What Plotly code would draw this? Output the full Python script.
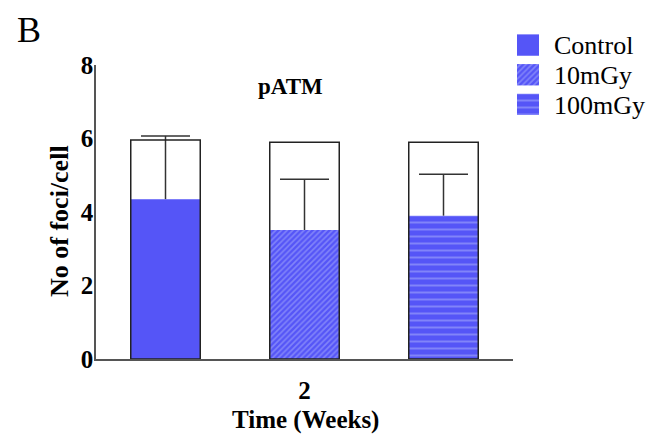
import plotly.graph_objects as go

time_label = ["2"]
groups = ["Control", "10mGy", "100mGy"]
means = [4.35, 3.51, 3.90]
errors = [1.72, 1.38, 1.13]
box_tops = [5.96, 5.90, 5.90]
y_ticks = [0, 2, 4, 6, 8]
legend_len = [1, 1, 1]

BLUE = "#5555f7"
LIGHT = "#aeb4fb"
FONT = "Liberation Serif"
patterns = [
    dict(shape=""),
    dict(shape="/", fgcolor=LIGHT, bgcolor=BLUE, size=4, solidity=0.4),
    dict(shape="-", fgcolor=LIGHT, bgcolor=BLUE, size=7, solidity=0.28),
]

# the page body adds an 8px offset; positions below are in reference-image pixels
OFF = 8
W, H = 662 - OFF, 438 - OFF
L, Rx, Ty, By = 96, 513, 65, 359  # plot area in reference pixels
px = lambda x: (x - OFF) / W
py = lambda y: (H - (y - OFF)) / H

pos = list(range(len(groups)))
fig = go.Figure()
for i, g in enumerate(groups):
    fig.add_trace(go.Bar(
        x=[pos[i]], y=[means[i]], name=g, width=0.5, showlegend=False,
        marker=dict(color=BLUE, line=dict(width=0), pattern=patterns[i]),
        error_y=dict(type="data", symmetric=False, array=[errors[i]], arrayminus=[0],
                     color="#333333", thickness=1.5, width=0),
    ))
for i, g in enumerate(groups):
    fig.add_trace(go.Bar(
        x=[pos[i]], y=[box_tops[i]], name=g + " box", width=0.5, showlegend=False,
        marker=dict(color="rgba(0,0,0,0)", line=dict(color="#222222", width=1.5)),
        hoverinfo="skip",
    ))
# error bar caps (upper only)
fig.add_trace(go.Scatter(
    x=pos, y=[m + e for m, e in zip(means, errors)], mode="markers", showlegend=False,
    marker=dict(symbol="line-ew", size=35, line=dict(color="#333333", width=1.5)),
    hoverinfo="skip",
))
# legend swatches in a small inset axis
for i, g in enumerate(groups):
    fig.add_trace(go.Bar(
        x=[legend_len[i]], y=[i], orientation="h", width=0.72, showlegend=False,
        xaxis="x2", yaxis="y2", hoverinfo="skip",
        marker=dict(color=BLUE, line=dict(width=0), pattern=patterns[i]),
    ))

row_c = [45, 74.5, 104.5]
ann = [
    dict(text="B", x=px(29), y=1.0, yanchor="top", font=dict(size=36, family=FONT)),
    dict(text="<b>pATM</b>", x=px(290), y=py(87), font=dict(size=23, family=FONT)),
    dict(text="<b>No of foci/cell</b>", x=px(59), y=py(221), textangle=-90,
         font=dict(size=26, family=FONT)),
    dict(text="<b>Time (Weeks)</b>", x=px(305), y=py(420), font=dict(size=25, family=FONT)),
]
for i, g in enumerate(groups):
    ann.append(dict(text=g, x=px(552), y=py(row_c[i] + 1), xanchor="left",
                    font=dict(size=26, family=FONT)))
for a in ann:
    a.update(xref="paper", yref="paper", showarrow=False)
    a.setdefault("yanchor", "middle")
    a.setdefault("xanchor", "center")

row_sp = row_c[1] - row_c[0]
fig.update_layout(
    width=W, height=H, barmode="overlay",
    plot_bgcolor="white", paper_bgcolor="white",
    margin=dict(l=0, r=0, t=0, b=0, pad=0, autoexpand=False),
    font=dict(family=FONT, color="black"),
    showlegend=False,
    xaxis=dict(domain=[px(L), px(Rx)], range=[-0.5, 2.5], tickvals=[1], ticktext=time_label,
               showline=True, linecolor="#555555", linewidth=1.5, ticks="",
               showgrid=False, zeroline=False, automargin=False, ticklabelstandoff=8,
               tickfont=dict(size=25, family=FONT, weight="bold")),
    yaxis=dict(domain=[py(By), py(Ty)], range=[0, 8], tickvals=y_ticks,
               showline=True, linecolor="#555555", linewidth=1.5,
               showgrid=False, zeroline=False, ticks="", automargin=False,
               ticklabelstandoff=-4,
               tickfont=dict(size=25, family=FONT, weight="bold")),
    xaxis2=dict(domain=[px(517), px(539)], range=[0, 1], visible=False, anchor="y2"),
    yaxis2=dict(domain=[py(115), py(34)], visible=False, anchor="x2",
                range=[2 + (115 - row_c[2]) / row_sp, -(row_c[0] - 34) / row_sp]),
    annotations=ann,
)
fig.write_html("out.html")
